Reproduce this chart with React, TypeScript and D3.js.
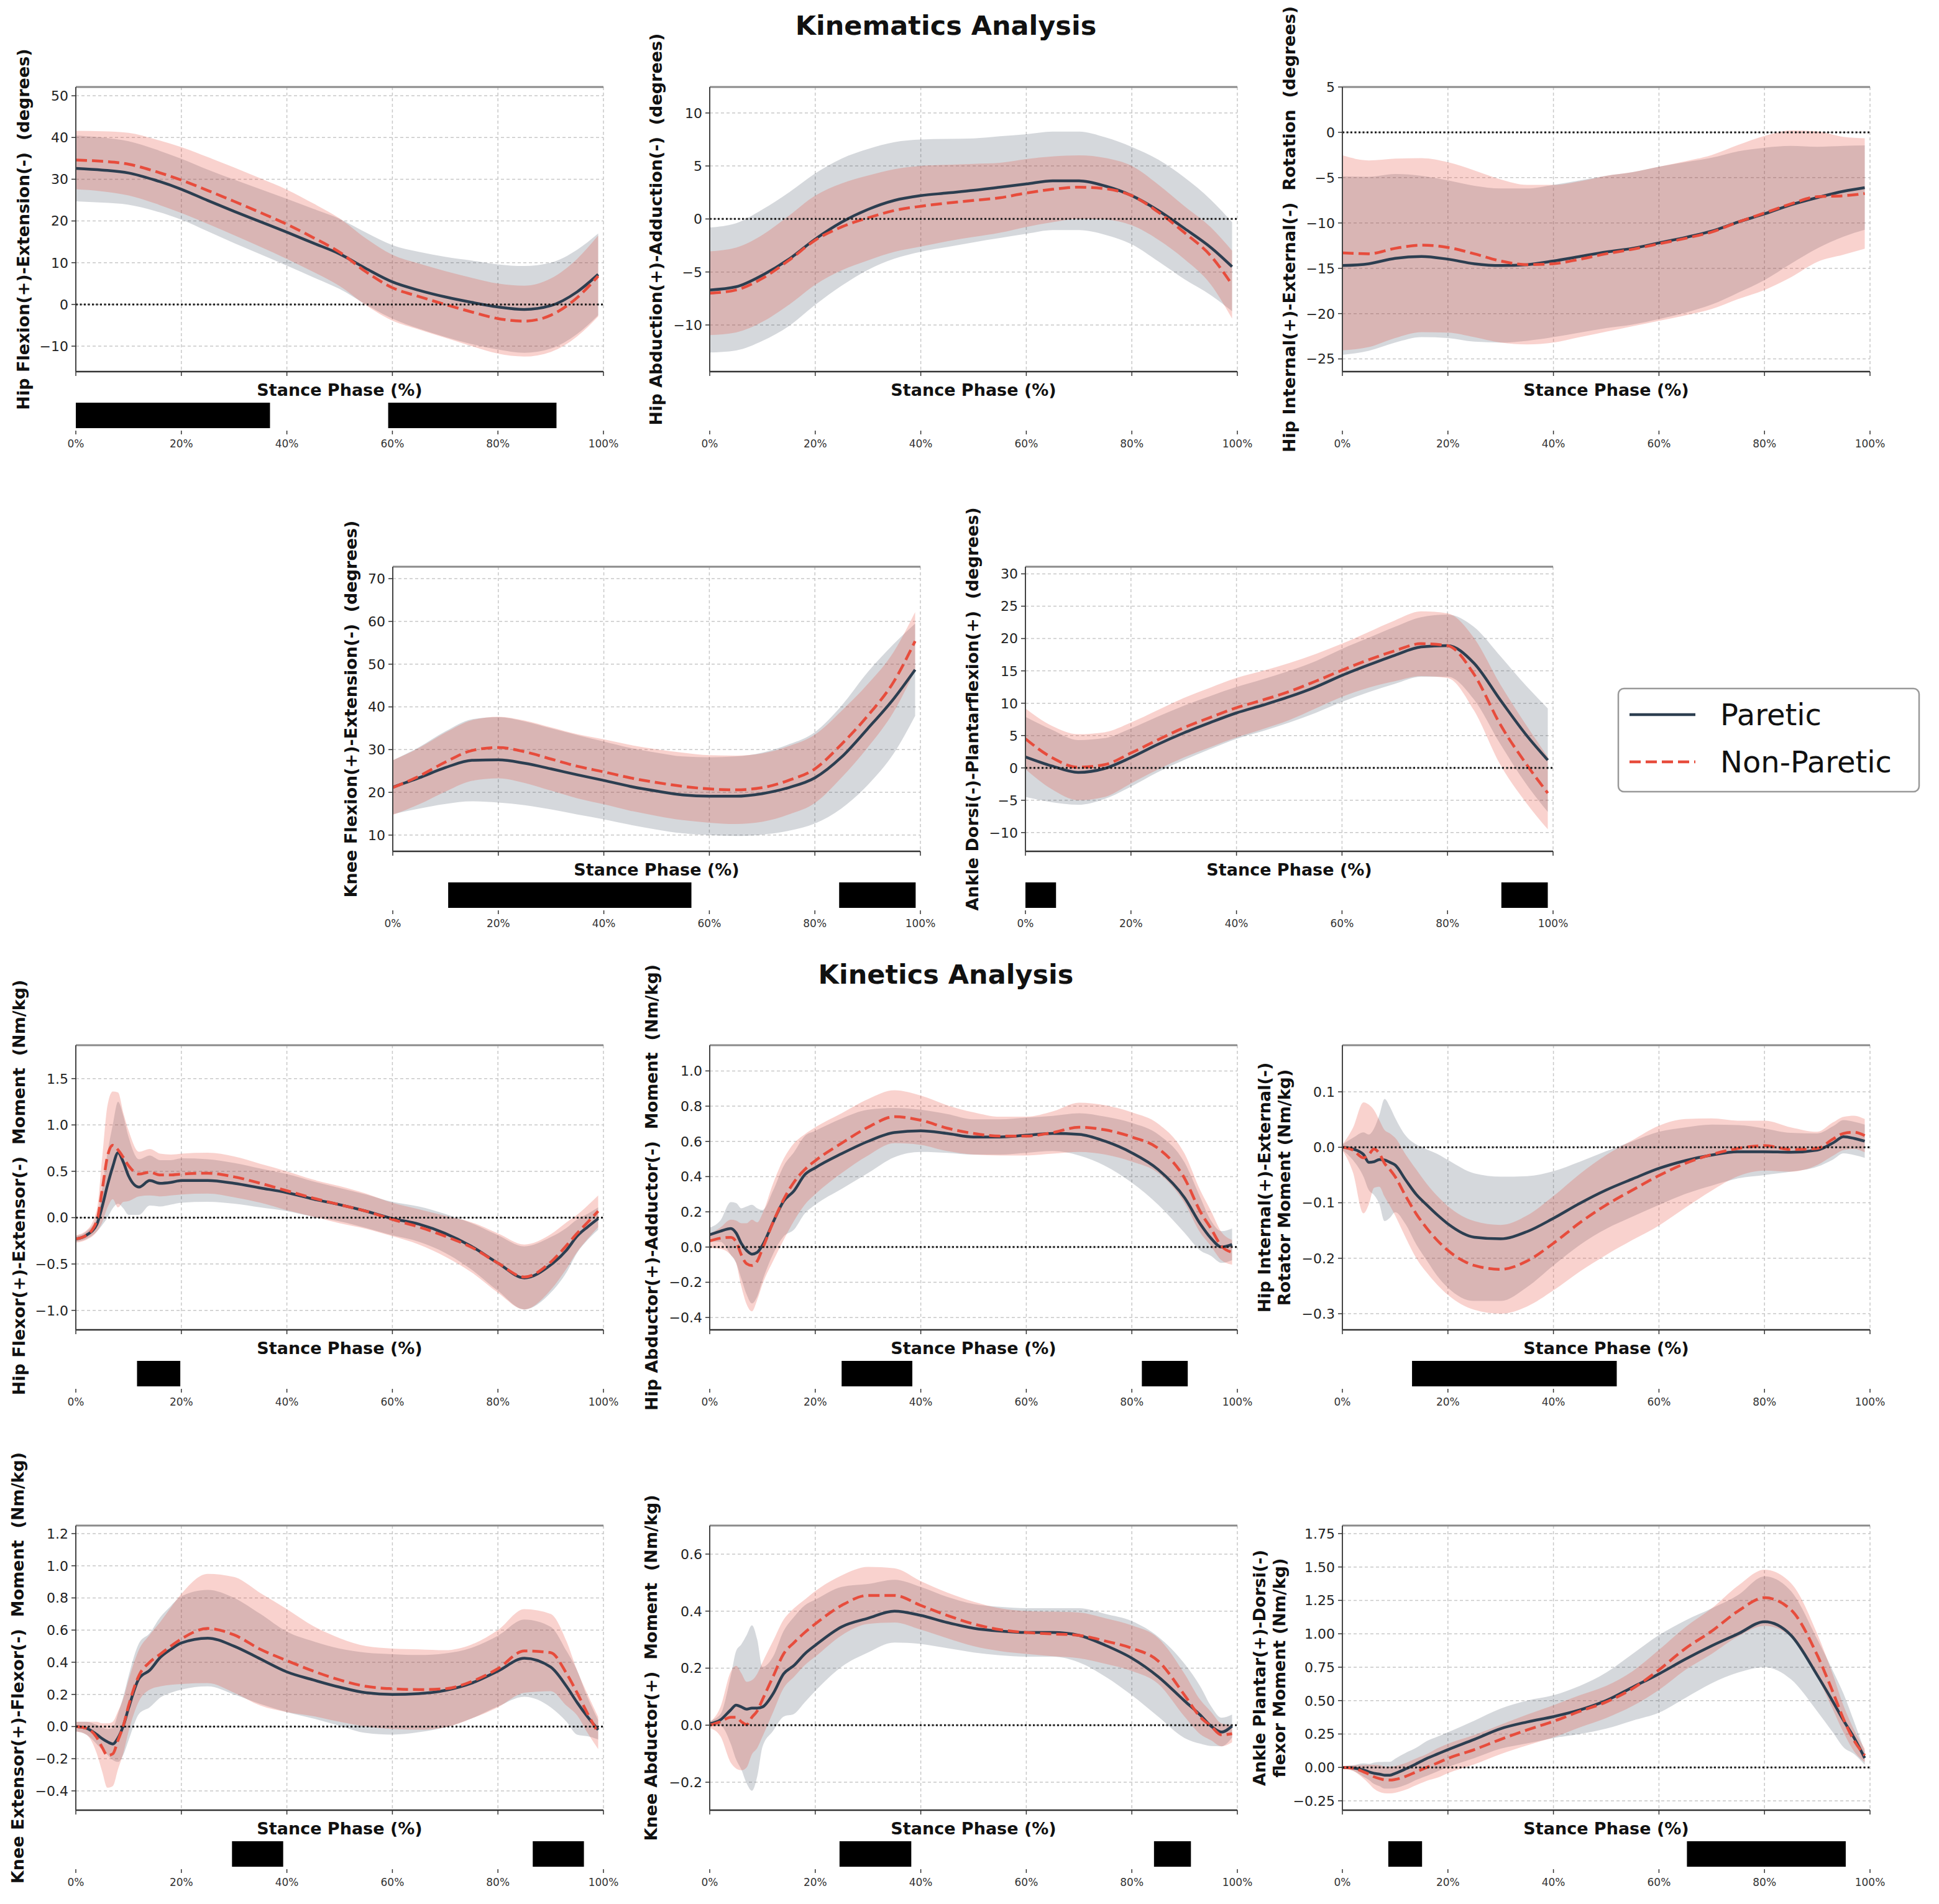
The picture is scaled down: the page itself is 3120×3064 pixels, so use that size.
import React from "react";
import * as d3 from "d3";

// ---------- x sample grids (stance phase %) ----------
const X_KIN = [0, 5, 10, 15, 20, 25, 30, 35, 40, 45, 50, 55, 60, 65, 70, 75, 80, 85, 90, 95, 99];
const X_MOM = [0, 2, 4, 5, 6, 7, 8, 9, 10, 12, 14, 16, 18, 20, 25, 30, 35, 40, 45, 50, 55, 60, 65, 70, 75, 80, 85, 90, 93, 95, 97, 99];
const X_TICKS = [0, 20, 40, 60, 80, 100];

// ---------- Hip flexion/extension ----------
const hipFlexP = [32.6, 32.2, 31.5, 29.8, 27.6, 24.9, 22.3, 19.8, 17.3, 14.7, 12.1, 8.6, 5.4, 3.4, 1.8, 0.5, -0.6, -1.2, -0.3, 3.0, 7.2];
const hipFlexPSd = [7.9, 7.8, 7.6, 7.4, 7.3, 7.4, 7.6, 7.8, 8.0, 8.2, 8.4, 8.6, 8.8, 9.2, 9.6, 10.0, 10.2, 10.4, 10.3, 10.1, 9.8];
const hipFlexN = [34.6, 34.3, 33.6, 31.9, 29.8, 27.3, 24.7, 22.0, 19.2, 16.0, 12.5, 7.8, 4.0, 1.9, 0.0, -1.8, -3.4, -4.0, -2.6, 1.6, 6.8];
const hipFlexNSd = [7.0, 7.2, 7.5, 7.7, 7.9, 8.0, 8.1, 8.2, 8.3, 8.2, 8.1, 8.0, 7.9, 7.9, 8.0, 8.2, 8.4, 8.5, 8.8, 9.3, 9.7];
const hipFlexTicks = [-10, 0, 10, 20, 30, 40, 50];
const hipFlexSig = [[0, 36.8], [59.2, 91.1]];

// ---------- Hip abduction/adduction ----------
const hipAbdP = [-6.7, -6.4, -5.3, -3.8, -1.9, -0.3, 0.9, 1.75, 2.2, 2.45, 2.7, 3.0, 3.3, 3.6, 3.6, 3.1, 2.2, 0.8, -0.9, -2.7, -4.5];
const hipAbdPSd = [5.9, 6.0, 6.2, 6.3, 6.2, 6.0, 5.7, 5.5, 5.3, 5.1, 4.9, 4.8, 4.7, 4.65, 4.65, 4.6, 4.6, 4.8, 4.8, 4.5, 4.2];
const hipAbdN = [-7.0, -6.7, -5.6, -3.9, -2.0, -0.75, 0.1, 0.8, 1.2, 1.5, 1.75, 2.0, 2.45, 2.8, 3.0, 2.85, 2.2, 0.65, -1.3, -3.5, -6.2];
const hipAbdNSd = [3.95, 4.0, 4.1, 4.2, 4.2, 4.1, 4.0, 3.9, 3.8, 3.6, 3.45, 3.3, 3.2, 3.1, 3.0, 2.9, 2.8, 2.6, 2.5, 2.7, 3.2];
const hipAbdTicks = [-10, -5, 0, 5, 10];
const hipAbdSig: number[][] = [];

// ---------- Hip internal/external rotation ----------
const hipRotP = [-14.7, -14.5, -13.9, -13.7, -14.0, -14.5, -14.7, -14.6, -14.2, -13.7, -13.2, -12.8, -12.2, -11.6, -10.9, -9.9, -9.0, -8.0, -7.2, -6.5, -6.1];
const hipRotPSd = [9.85, 9.6, 9.3, 8.9, 8.7, 8.6, 8.5, 8.4, 8.4, 8.4, 8.4, 8.4, 8.4, 8.3, 8.1, 7.8, 7.3, 6.5, 5.6, 5.0, 4.65];
const hipRotN = [-13.3, -13.4, -12.8, -12.45, -12.7, -13.4, -14.2, -14.6, -14.5, -14.0, -13.4, -12.9, -12.3, -11.7, -11.0, -9.9, -8.9, -7.9, -7.1, -7.0, -6.75];
const hipRotNSd = [10.75, 10.3, 9.9, 9.6, 9.4, 9.2, 9.0, 8.8, 8.7, 8.6, 8.6, 8.5, 8.5, 8.5, 8.5, 8.5, 8.5, 8.1, 7.2, 6.5, 6.1];
const hipRotTicks = [-25, -20, -15, -10, -5, 0, 5];
const hipRotSig: number[][] = [];

// ---------- Knee flexion/extension ----------
const kneeFlexP = [21.2, 23.4, 25.8, 27.5, 27.6, 26.8, 25.5, 24.1, 22.8, 21.4, 20.3, 19.4, 19.1, 19.1, 19.7, 21.1, 23.4, 28.2, 34.9, 42.0, 48.7];
const kneeFlexPSd = [6.3, 7.2, 8.5, 9.6, 10.0, 9.8, 9.5, 9.3, 9.1, 9.0, 9.0, 9.0, 9.1, 9.3, 9.6, 10.1, 10.7, 12.0, 13.2, 12.8, 10.8];
const kneeFlexN = [21.1, 23.8, 27.1, 29.8, 30.5, 29.5, 27.8, 26.1, 24.8, 23.4, 22.3, 21.4, 20.8, 20.6, 21.1, 22.8, 25.5, 31.2, 37.9, 46.0, 55.4];
const kneeFlexNSd = [6.4, 6.6, 6.9, 7.1, 7.2, 7.3, 7.4, 7.5, 7.6, 7.7, 7.8, 7.9, 7.9, 8.0, 8.0, 8.0, 8.0, 7.8, 7.4, 7.0, 6.8];
const kneeFlexTicks = [10, 20, 30, 40, 50, 60, 70];
const kneeFlexSig = [[10.5, 56.6], [84.6, 99.1]];

// ---------- Ankle dorsi/plantarflexion ----------
const ankleP = [1.7, 0.3, -0.7, -0.1, 1.6, 3.6, 5.4, 7.0, 8.5, 9.7, 11.0, 12.5, 14.3, 15.9, 17.4, 18.7, 18.9, 16.2, 10.5, 5.0, 1.2];
const anklePSd = [6.2, 5.6, 5.0, 4.7, 4.5, 4.3, 4.2, 4.1, 4.0, 4.0, 4.0, 4.0, 4.1, 4.2, 4.4, 4.6, 4.8, 5.6, 6.8, 7.6, 8.0];
const ankleN = [4.5, 1.6, 0.1, 0.5, 2.3, 4.3, 6.2, 7.8, 9.3, 10.5, 11.8, 13.4, 15.1, 16.7, 18.1, 19.2, 18.9, 14.5, 6.7, 0.5, -3.9];
const ankleNSd = [4.7, 4.9, 5.1, 5.0, 4.7, 4.6, 4.6, 4.6, 4.6, 4.5, 4.4, 4.2, 4.1, 4.3, 4.7, 5.0, 5.0, 5.6, 6.2, 6.0, 5.6];
const ankleTicks = [-10, -5, 0, 5, 10, 15, 20, 25, 30];
const ankleSig = [[0, 5.8], [90.2, 99.0]];

// ---------- Hip flexor/extensor moment ----------
const hipFlexMomP = [-0.23, -0.19, -0.07, 0.12, 0.35, 0.55, 0.7, 0.6, 0.45, 0.33, 0.4, 0.37, 0.38, 0.4, 0.4, 0.37, 0.32, 0.27, 0.2, 0.14, 0.07, -0.01, -0.07, -0.17, -0.31, -0.49, -0.65, -0.51, -0.35, -0.2, -0.1, -0.01];
const hipFlexMomPSd = [0.03, 0.04, 0.08, 0.2, 0.35, 0.45, 0.55, 0.5, 0.42, 0.3, 0.27, 0.25, 0.24, 0.24, 0.23, 0.22, 0.21, 0.2, 0.19, 0.18, 0.18, 0.18, 0.19, 0.21, 0.25, 0.3, 0.34, 0.3, 0.24, 0.18, 0.14, 0.12];
const hipFlexMomN = [-0.23, -0.19, -0.03, 0.3, 0.66, 0.78, 0.73, 0.65, 0.56, 0.47, 0.49, 0.46, 0.46, 0.47, 0.48, 0.44, 0.37, 0.29, 0.21, 0.14, 0.07, -0.02, -0.1, -0.2, -0.32, -0.49, -0.64, -0.48, -0.3, -0.17, -0.05, 0.07];
const hipFlexMomNSd = [0.04, 0.05, 0.12, 0.35, 0.55, 0.58, 0.62, 0.48, 0.38, 0.24, 0.25, 0.23, 0.22, 0.22, 0.22, 0.22, 0.21, 0.21, 0.2, 0.2, 0.19, 0.18, 0.19, 0.22, 0.27, 0.32, 0.35, 0.3, 0.25, 0.2, 0.18, 0.17];
const hipFlexMomTicks = [-1.0, -0.5, 0, 0.5, 1.0, 1.5];
const hipFlexMomSig = [[11.6, 19.8]];

// ---------- Hip abductor/adductor moment ----------
const hipAbdMomP = [0.07, 0.09, 0.105, 0.08, 0.02, -0.02, -0.04, -0.03, 0.01, 0.14, 0.26, 0.32, 0.41, 0.45, 0.53, 0.6, 0.65, 0.66, 0.645, 0.625, 0.625, 0.635, 0.645, 0.64, 0.6, 0.535, 0.44, 0.28, 0.13, 0.05, 0.0, 0.015];
const hipAbdMomPSd = [0.04, 0.06, 0.15, 0.17, 0.2, 0.25, 0.28, 0.25, 0.2, 0.18, 0.2, 0.22, 0.22, 0.21, 0.2, 0.18, 0.14, 0.12, 0.11, 0.1, 0.1, 0.1, 0.1, 0.12, 0.14, 0.17, 0.2, 0.2, 0.15, 0.1, 0.09, 0.09];
const hipAbdMomN = [0.035, 0.05, 0.055, 0.03, -0.045, -0.095, -0.105, -0.08, -0.01, 0.14, 0.27, 0.37, 0.44, 0.49, 0.59, 0.68, 0.74, 0.72, 0.675, 0.645, 0.63, 0.63, 0.65, 0.68, 0.665, 0.625, 0.56, 0.39, 0.2, 0.105, 0.005, -0.03];
const hipAbdMomNSd = [0.04, 0.06, 0.1, 0.12, 0.18, 0.23, 0.26, 0.22, 0.2, 0.22, 0.23, 0.22, 0.2, 0.19, 0.17, 0.16, 0.15, 0.14, 0.13, 0.12, 0.11, 0.11, 0.12, 0.14, 0.14, 0.14, 0.14, 0.14, 0.12, 0.1, 0.08, 0.07];
const hipAbdMomTicks = [-0.4, -0.2, 0, 0.2, 0.4, 0.6, 0.8, 1.0];
const hipAbdMomSig = [[25.0, 38.4], [81.9, 90.6]];

// ---------- Hip internal/external rotator moment ----------
const hipRotMomP = [0, -0.003, -0.013, -0.027, -0.026, -0.022, -0.023, -0.027, -0.032, -0.059, -0.085, -0.104, -0.122, -0.138, -0.162, -0.165, -0.152, -0.128, -0.101, -0.077, -0.057, -0.038, -0.024, -0.014, -0.008, -0.008, -0.009, -0.005, 0.008, 0.019, 0.016, 0.011];
const hipRotMomPSd = [0.005, 0.02, 0.04, 0.05, 0.06, 0.08, 0.11, 0.1, 0.085, 0.08, 0.09, 0.1, 0.11, 0.115, 0.115, 0.112, 0.1, 0.085, 0.075, 0.07, 0.068, 0.066, 0.06, 0.055, 0.048, 0.042, 0.035, 0.03, 0.03, 0.03, 0.03, 0.03];
const hipRotMomN = [0, -0.005, -0.019, -0.013, -0.003, -0.011, -0.029, -0.04, -0.053, -0.088, -0.12, -0.146, -0.168, -0.186, -0.213, -0.22, -0.205, -0.173, -0.136, -0.104, -0.077, -0.051, -0.029, -0.013, -0.002, 0.003, -0.004, -0.002, 0.015, 0.025, 0.027, 0.021];
const hipRotMomNSd = [0.005, 0.04, 0.1, 0.09, 0.07, 0.06, 0.06, 0.065, 0.07, 0.075, 0.08, 0.08, 0.08, 0.08, 0.08, 0.08, 0.082, 0.085, 0.088, 0.09, 0.09, 0.09, 0.08, 0.065, 0.05, 0.045, 0.04, 0.03, 0.03, 0.03, 0.03, 0.03];
const hipRotMomTicks = [-0.3, -0.2, -0.1, 0, 0.1];
const hipRotMomSig = [[13.2, 52.0]];

// ---------- Knee extensor/flexor moment ----------
const kneeExtMomP = [0, -0.01, -0.05, -0.075, -0.095, -0.108, -0.07, 0.005, 0.115, 0.3, 0.35, 0.43, 0.48, 0.52, 0.55, 0.5, 0.42, 0.34, 0.29, 0.245, 0.21, 0.2, 0.205, 0.225, 0.27, 0.345, 0.425, 0.37, 0.25, 0.15, 0.06, -0.02];
const kneeExtMomPSd = [0.03, 0.04, 0.06, 0.07, 0.08, 0.1, 0.15, 0.18, 0.2, 0.22, 0.23, 0.25, 0.27, 0.29, 0.3, 0.3, 0.28, 0.25, 0.24, 0.24, 0.25, 0.25, 0.24, 0.23, 0.22, 0.22, 0.24, 0.25, 0.22, 0.2, 0.12, 0.06];
const kneeExtMomN = [0, -0.01, -0.07, -0.13, -0.18, -0.17, -0.085, 0.005, 0.13, 0.32, 0.4, 0.45, 0.5, 0.545, 0.61, 0.57, 0.48, 0.41, 0.345, 0.29, 0.25, 0.235, 0.23, 0.235, 0.28, 0.36, 0.47, 0.46, 0.33, 0.21, 0.08, -0.04];
const kneeExtMomNSd = [0.03, 0.04, 0.1, 0.15, 0.2, 0.2, 0.18, 0.17, 0.16, 0.16, 0.17, 0.2, 0.24, 0.28, 0.34, 0.36, 0.35, 0.32, 0.28, 0.26, 0.25, 0.25, 0.25, 0.24, 0.23, 0.24, 0.26, 0.24, 0.2, 0.14, 0.12, 0.1];
const kneeExtMomTicks = [-0.4, -0.2, 0, 0.2, 0.4, 0.6, 0.8, 1.0, 1.2];
const kneeExtMomSig = [[29.6, 39.3], [86.6, 96.3]];

// ---------- Knee abductor moment ----------
const kneeAbdMomP = [0.005, 0.018, 0.054, 0.07, 0.064, 0.056, 0.06, 0.06, 0.064, 0.11, 0.18, 0.21, 0.25, 0.28, 0.345, 0.375, 0.4, 0.385, 0.36, 0.34, 0.33, 0.325, 0.325, 0.315, 0.28, 0.235, 0.17, 0.085, 0.035, -0.003, -0.024, -0.003];
const kneeAbdMomPSd = [0.01, 0.02, 0.12, 0.19, 0.22, 0.26, 0.29, 0.24, 0.14, 0.13, 0.15, 0.17, 0.17, 0.16, 0.14, 0.12, 0.11, 0.1, 0.09, 0.085, 0.085, 0.085, 0.085, 0.095, 0.11, 0.13, 0.14, 0.13, 0.1, 0.07, 0.05, 0.04];
const kneeAbdMomN = [0, 0.012, 0.028, 0.028, 0.012, 0.002, 0.028, 0.05, 0.09, 0.17, 0.25, 0.29, 0.325, 0.355, 0.42, 0.455, 0.455, 0.42, 0.385, 0.355, 0.335, 0.325, 0.32, 0.315, 0.295, 0.27, 0.225, 0.105, 0.028, -0.003, -0.034, -0.03];
const kneeAbdMomNSd = [0.01, 0.05, 0.16, 0.18, 0.17, 0.15, 0.13, 0.13, 0.13, 0.125, 0.12, 0.12, 0.115, 0.115, 0.105, 0.1, 0.095, 0.085, 0.08, 0.078, 0.075, 0.075, 0.078, 0.08, 0.08, 0.08, 0.08, 0.075, 0.06, 0.05, 0.04, 0.03];
const kneeAbdMomTicks = [-0.2, 0, 0.2, 0.4, 0.6];
const kneeAbdMomSig = [[24.6, 38.2], [84.2, 91.2]];

// ---------- Ankle plantar/dorsiflexor moment ----------
const ankleMomP = [0, -0.004, -0.02, -0.033, -0.044, -0.05, -0.058, -0.058, -0.045, -0.011, 0.027, 0.067, 0.1, 0.133, 0.21, 0.29, 0.34, 0.38, 0.43, 0.5, 0.6, 0.7, 0.81, 0.91, 1.0, 1.09, 0.99, 0.69, 0.49, 0.35, 0.22, 0.07];
const ankleMomPSd = [0.01, 0.02, 0.05, 0.06, 0.08, 0.09, 0.1, 0.1, 0.11, 0.12, 0.12, 0.13, 0.13, 0.13, 0.14, 0.15, 0.16, 0.16, 0.18, 0.21, 0.25, 0.29, 0.29, 0.28, 0.29, 0.34, 0.33, 0.27, 0.23, 0.2, 0.12, 0.05];
const ankleMomN = [0, -0.006, -0.033, -0.05, -0.07, -0.083, -0.093, -0.095, -0.09, -0.067, -0.033, 0, 0.033, 0.067, 0.133, 0.21, 0.28, 0.345, 0.42, 0.49, 0.59, 0.73, 0.89, 1.02, 1.17, 1.27, 1.18, 0.84, 0.56, 0.36, 0.2, 0.09];
const ankleMomNSd = [0.01, 0.02, 0.05, 0.07, 0.09, 0.1, 0.1, 0.1, 0.1, 0.1, 0.1, 0.1, 0.11, 0.11, 0.11, 0.11, 0.115, 0.12, 0.12, 0.12, 0.13, 0.15, 0.16, 0.17, 0.19, 0.21, 0.2, 0.16, 0.13, 0.1, 0.08, 0.05];
const ankleMomTicks = [-0.25, 0, 0.25, 0.5, 0.75, 1.0, 1.25, 1.5, 1.75];
const ankleMomSig = [[8.7, 15.1], [65.3, 95.4]];

const LEGEND_LABELS = ["Paretic", "Non-Paretic"];

// ---------- layout / style ----------
const FONT = "DejaVu Sans";
const PW = 849;
const PH = 458;
const COL = [122, 1142, 2160];
const COL2 = [632, 1650];
const ROW = [140, 912, 1682, 2455];
const P_COLOR = "#2c3e50";
const N_COLOR = "#e74c3c";

type Panel = {
  label: string[];
  xs: number[];
  pm: number[]; ps: number[]; nm: number[]; ns: number[];
  domain: [number, number];
  ticks: number[];
  dec: number;
  sig: number[][];
  left: number; top: number; gap: number;
};

const panels: Panel[] = [
  { label: ["Hip Flexion(+)-Extension(-)  (degrees)"], xs: X_KIN, pm: hipFlexP, ps: hipFlexPSd, nm: hipFlexN, ns: hipFlexNSd, domain: [-16.1, 52.1], ticks: hipFlexTicks, dec: 0, sig: hipFlexSig, left: COL[0], top: ROW[0], gap: 85 },
  { label: ["Hip Abduction(+)-Adduction(-)  (degrees)"], xs: X_KIN, pm: hipAbdP, ps: hipAbdPSd, nm: hipAbdN, ns: hipAbdNSd, domain: [-14.4, 12.45], ticks: hipAbdTicks, dec: 0, sig: hipAbdSig, left: COL[1], top: ROW[0], gap: 87 },
  { label: ["Hip Internal(+)-External(-)  Rotation  (degrees)"], xs: X_KIN, pm: hipRotP, ps: hipRotPSd, nm: hipRotN, ns: hipRotNSd, domain: [-26.4, 5.0], ticks: hipRotTicks, dec: 0, sig: hipRotSig, left: COL[2], top: ROW[0], gap: 86 },
  { label: ["Knee Flexion(+)-Extension(-)  (degrees)"], xs: X_KIN, pm: kneeFlexP, ps: kneeFlexPSd, nm: kneeFlexN, ns: kneeFlexNSd, domain: [6.2, 72.8], ticks: kneeFlexTicks, dec: 0, sig: kneeFlexSig, left: COL2[0], top: ROW[1], gap: 68 },
  { label: ["Ankle Dorsi(-)-Plantarflexion(+)  (degrees)"], xs: X_KIN, pm: ankleP, ps: anklePSd, nm: ankleN, ns: ankleNSd, domain: [-12.9, 31.1], ticks: ankleTicks, dec: 0, sig: ankleSig, left: COL2[1], top: ROW[1], gap: 86 },
  { label: ["Hip Flexor(+)-Extensor(-)  Moment  (Nm/kg)"], xs: X_MOM, pm: hipFlexMomP, ps: hipFlexMomPSd, nm: hipFlexMomN, ns: hipFlexMomNSd, domain: [-1.21, 1.86], ticks: hipFlexMomTicks, dec: 1, sig: hipFlexMomSig, left: COL[0], top: ROW[2], gap: 92 },
  { label: ["Hip Abductor(+)-Adductor(-)  Moment  (Nm/kg)"], xs: X_MOM, pm: hipAbdMomP, ps: hipAbdMomPSd, nm: hipAbdMomN, ns: hipAbdMomNSd, domain: [-0.47, 1.146], ticks: hipAbdMomTicks, dec: 1, sig: hipAbdMomSig, left: COL[1], top: ROW[2], gap: 94 },
  { label: ["Hip Internal(+)-External(-)", "Rotator Moment (Nm/kg)"], xs: X_MOM, pm: hipRotMomP, ps: hipRotMomPSd, nm: hipRotMomN, ns: hipRotMomNSd, domain: [-0.329, 0.184], ticks: hipRotMomTicks, dec: 1, sig: hipRotMomSig, left: COL[2], top: ROW[2], gap: 94 },
  { label: ["Knee Extensor(+)-Flexor(-)  Moment  (Nm/kg)"], xs: X_MOM, pm: kneeExtMomP, ps: kneeExtMomPSd, nm: kneeExtMomN, ns: kneeExtMomNSd, domain: [-0.52, 1.25], ticks: kneeExtMomTicks, dec: 1, sig: kneeExtMomSig, left: COL[0], top: ROW[3], gap: 94 },
  { label: ["Knee Abductor(+)  Moment  (Nm/kg)"], xs: X_MOM, pm: kneeAbdMomP, ps: kneeAbdMomPSd, nm: kneeAbdMomN, ns: kneeAbdMomNSd, domain: [-0.298, 0.70], ticks: kneeAbdMomTicks, dec: 1, sig: kneeAbdMomSig, left: COL[1], top: ROW[3], gap: 95 },
  { label: ["Ankle Plantar(+)-Dorsi(-)", "flexor Moment (Nm/kg)"], xs: X_MOM, pm: ankleMomP, ps: ankleMomPSd, nm: ankleMomN, ns: ankleMomNSd, domain: [-0.32, 1.81], ticks: ankleMomTicks, dec: 2, sig: ankleMomSig, left: COL[2], top: ROW[3], gap: 102 },
];

const fmt = (v: number, dec: number) => {
  const s = Math.abs(v).toFixed(dec);
  return (v < 0 && parseFloat(s) !== 0 ? "\u2212" : "") + s;
};

function PanelView({ p, idx }: { p: Panel; idx: number }) {
  const x = d3.scaleLinear().domain([0, 100]).range([p.left, p.left + PW]);
  const y = d3.scaleLinear().domain(p.domain).range([p.top + PH, p.top]);
  const bandPath = (m: number[], s: number[]) =>
    d3.area<number>()
      .x((_, i) => x(p.xs[i]))
      .y0((d, i) => y(d - s[i]))
      .y1((d, i) => y(d + s[i]))
      .curve(d3.curveMonotoneX)(m) || "";
  const linePath = (m: number[]) =>
    d3.line<number>()
      .x((_, i) => x(p.xs[i]))
      .y((d) => y(d))
      .curve(d3.curveMonotoneX)(m) || "";
  const clipId = `clip-${idx}`;
  const bottom = p.top + PH;
  const barTop = p.top + 508;
  const barBot = p.top + 549;
  const labelCx = p.left - p.gap;
  const cy = p.top + PH / 2;
  const lineStep = 32;
  const hasZero = p.domain[0] < 0 && p.domain[1] > 0;
  return (
    <g>
      <defs>
        <clipPath id={clipId}>
          <rect x={p.left} y={p.top} width={PW} height={PH} />
        </clipPath>
      </defs>
      {/* grid */}
      {X_TICKS.map((t) => (
        <line key={"gx" + t} x1={x(t)} x2={x(t)} y1={p.top} y2={bottom} stroke="#c8c8c8" strokeWidth={1.5} strokeDasharray="5 4" />
      ))}
      {p.ticks.map((t) => (
        <line key={"gy" + t} x1={p.left} x2={p.left + PW} y1={y(t)} y2={y(t)} stroke="#c8c8c8" strokeWidth={1.5} strokeDasharray="5 4" />
      ))}
      <g clipPath={`url(#${clipId})`}>
        <path d={bandPath(p.pm, p.ps)} fill={P_COLOR} fillOpacity={0.2} />
        <path d={bandPath(p.nm, p.ns)} fill={N_COLOR} fillOpacity={0.25} />
        <path d={linePath(p.pm)} fill="none" stroke={P_COLOR} strokeWidth={4.5} />
        <path d={linePath(p.nm)} fill="none" stroke={N_COLOR} strokeWidth={4.5} strokeDasharray="18 8" />
        {hasZero && (
          <line x1={p.left} x2={p.left + PW} y1={y(0)} y2={y(0)} stroke="#1a1a1a" strokeWidth={3} strokeDasharray="3 3.5" />
        )}
      </g>
      {/* spines */}
      <line x1={p.left} x2={p.left + PW} y1={p.top} y2={p.top} stroke="#8a8a8a" strokeWidth={3} />
      <line x1={p.left} x2={p.left + PW} y1={bottom} y2={bottom} stroke="#333" strokeWidth={2.5} />
      <line x1={p.left} x2={p.left} y1={p.top} y2={bottom} stroke="#444" strokeWidth={2} />
      {/* y ticks */}
      {p.ticks.map((t) => (
        <g key={"yt" + t}>
          <line x1={p.left - 7} x2={p.left} y1={y(t)} y2={y(t)} stroke="#333" strokeWidth={1.5} />
          <text x={p.left - 12} y={y(t)} dy="0.36em" textAnchor="end" fontFamily={FONT} fontSize={22} fill="#222">
            {fmt(t, p.dec)}
          </text>
        </g>
      ))}
      {/* x ticks on main axis */}
      {X_TICKS.map((t) => (
        <line key={"xt" + t} x1={x(t)} x2={x(t)} y1={bottom} y2={bottom + 7} stroke="#333" strokeWidth={1.5} />
      ))}
      {/* x label */}
      <text x={p.left + PW / 2} y={p.top + 487} dy="0.36em" textAnchor="middle" fontFamily={FONT} fontWeight="bold" fontSize={27} fill="#111">
        Stance Phase (%)
      </text>
      {/* significance bars */}
      {p.sig.map((s, i) => (
        <rect key={"sig" + i} x={x(s[0])} y={barTop} width={x(s[1]) - x(s[0])} height={barBot - barTop} fill="#000" />
      ))}
      {/* bar-axis ticks and labels */}
      {X_TICKS.map((t) => (
        <g key={"bt" + t}>
          <line x1={x(t)} x2={x(t)} y1={p.top + 553} y2={p.top + 559} stroke="#333" strokeWidth={1.5} />
          <text x={x(t)} y={p.top + 574} dy="0.36em" textAnchor="middle" fontFamily={FONT} fontSize={17} fill="#333">
            {t}%
          </text>
        </g>
      ))}
      {/* y label */}
      {p.label.map((ln, i) => {
        const cx = labelCx - (p.label.length - 1 - i) * lineStep;
        return (
          <text key={"yl" + i} transform={`translate(${cx},${cy}) rotate(-90)`} dy="0.36em" textAnchor="middle" fontFamily={FONT} fontWeight="bold" fontSize={27} fill="#111" style={{ whiteSpace: "pre" }}>
            {ln}
          </text>
        );
      })}
    </g>
  );
}

export default function App() {
  return (
    <svg width={3120} height={3064} viewBox="0 0 3120 3064" style={{ position: "absolute", left: 0, top: 0, background: "#fff" }}>
      <rect x={0} y={0} width={3120} height={3064} fill="#fff" />
      <text x={1522} y={41} dy="0.36em" textAnchor="middle" fontFamily={FONT} fontWeight="bold" fontSize={43} fill="#111">
        Kinematics Analysis
      </text>
      <text x={1522} y={1568} dy="0.36em" textAnchor="middle" fontFamily={FONT} fontWeight="bold" fontSize={43} fill="#111">
        Kinetics Analysis
      </text>
      {panels.map((p, i) => (
        <PanelView key={i} p={p} idx={i} />
      ))}
      {/* legend */}
      <g>
        <rect x={2604} y={1108} width={484} height={166} rx={9} fill="#fff" stroke="#999" strokeWidth={2.5} />
        <line x1={2622} x2={2728} y1={1150} y2={1150} stroke={P_COLOR} strokeWidth={4.5} />
        <line x1={2622} x2={2728} y1={1226} y2={1226} stroke={N_COLOR} strokeWidth={4.5} strokeDasharray="18 8" />
        <text x={2768} y={1150} dy="0.36em" fontFamily={FONT} fontSize={48} fill="#111">{LEGEND_LABELS[0]}</text>
        <text x={2768} y={1226} dy="0.36em" fontFamily={FONT} fontSize={48} fill="#111">{LEGEND_LABELS[1]}</text>
      </g>
    </svg>
  );
}
